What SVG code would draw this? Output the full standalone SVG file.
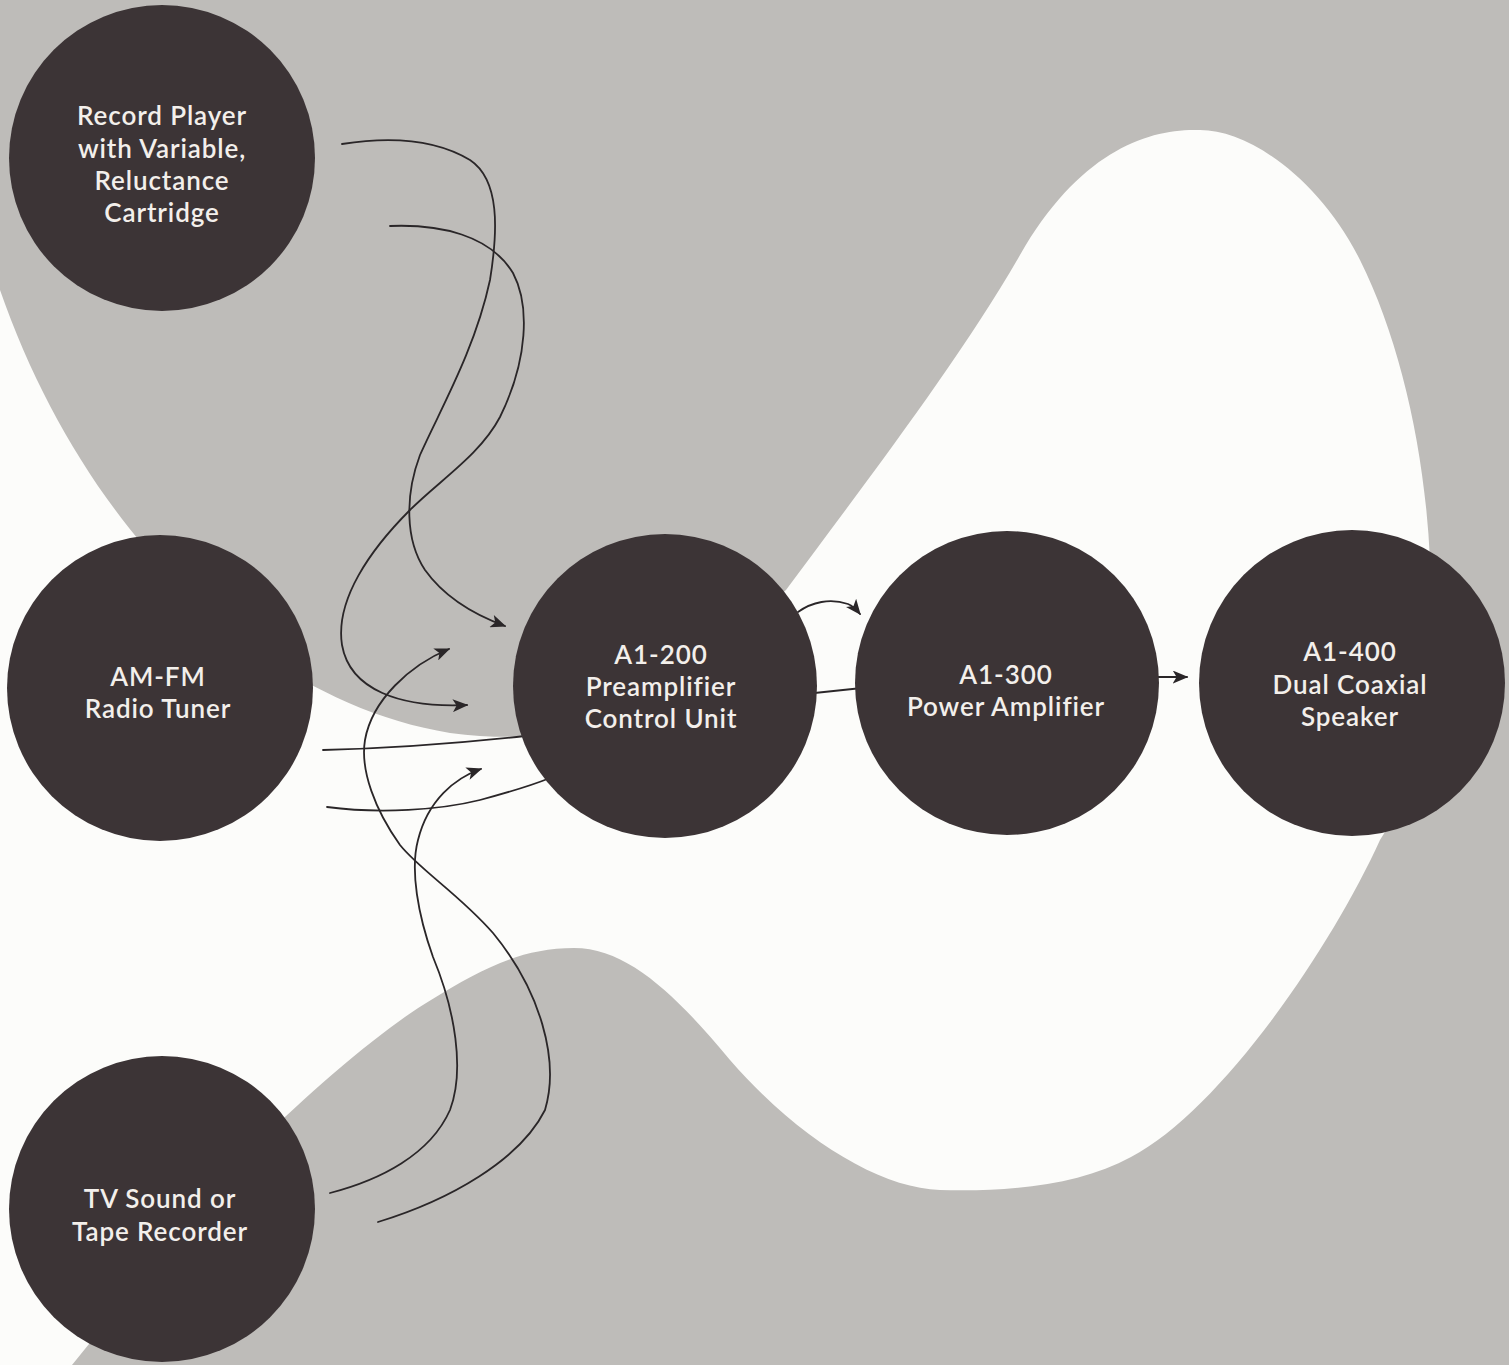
<svg xmlns="http://www.w3.org/2000/svg" width="1509" height="1365" viewBox="0 0 1509 1365">
<style>
.bg-gray{fill:#bebcb9}
.bg-white{fill:#fcfcfa}
.node circle{fill:#3c3436}
.node text{fill:#f3efeb;font-family:Lato,"Liberation Sans",sans-serif;font-size:26px;font-weight:600;letter-spacing:0.9px;text-anchor:middle}
.wire{fill:none;stroke:#2a2628;stroke-width:1.8;stroke-linecap:round}
.arrow{marker-end:url(#ah)}
</style>
<defs>
<marker id="ah" viewBox="0 0 12 10" refX="11" refY="5" markerWidth="16" markerHeight="13" markerUnits="userSpaceOnUse" orient="auto">
<path d="M0,0 L12,5 L0,10 L3,5 z" fill="#2a2628"/>
</marker>
</defs>
<g id="background">
<rect class="bg-gray" x="0" y="0" width="1509" height="1365"/>
<path class="bg-white" d="M0,290 C80,520 250,700 450,733 C520,742 580,735 640,715 L786,590 C860,490 960,360 1020,255 C1080,150 1150,128 1200,130 C1250,130 1320,180 1360,260 C1400,340 1425,450 1430,560 C1435,680 1420,780 1380,840 C1330,950 1220,1110 1131,1157 C1080,1185 1010,1192 940,1190 C880,1188 800,1140 730,1060 C680,1000 630,948 574,948 C520,948 480,970 431,1000 C380,1030 300,1100 230,1170 L72,1365 L0,1365 Z"/>
</g>
<g id="connectors">
<path id="c1" class="wire arrow" d="M342,144 C380,138 430,136 470,160 C500,180 498,230 490,280 C475,350 440,410 420,455 C405,495 405,540 425,570 C445,598 475,615 505,626"/>
<path id="c2" class="wire arrow" d="M390,226 C440,224 490,235 513,273 C530,305 528,360 500,417 C480,455 440,480 410,510 C370,550 335,600 342,645 C350,690 400,708 467,705"/>
<path id="c3" class="wire" d="M323,750 C400,748 470,742 525,736"/>
<path id="c4" class="wire" d="M327,807 C380,814 440,810 480,800 C510,792 535,784 550,778"/>
<path id="c5" class="wire arrow" d="M330,1193 C380,1180 430,1155 450,1110 C465,1070 455,1010 433,957 C418,915 410,870 418,840 C428,800 455,778 481,769"/>
<path id="c6" class="wire arrow" d="M378,1222 C450,1200 520,1160 545,1110 C560,1060 540,990 493,933 C460,895 420,870 400,845 C375,810 360,770 365,740 C372,700 410,665 449,649"/>
<path id="c7" class="wire" d="M805,694 L862,688"/>
<path id="c8" class="wire arrow" d="M798,612 C812,602 830,598 848,604 C853,606 856,609 860,614"/>
<path id="c9" class="wire arrow" d="M1158,677 L1187,677"/>
</g>
<g id="node-record" class="node">
<circle cx="162" cy="158" r="153"/>
<text x="162" y="125">Record Player</text>
<text x="162" y="158">with Variable,</text>
<text x="162" y="190">Reluctance</text>
<text x="162" y="222">Cartridge</text>
</g>
<g id="node-tuner" class="node">
<circle cx="160" cy="688" r="153"/>
<text x="158" y="686">AM-FM</text>
<text x="158" y="718">Radio Tuner</text>
</g>
<g id="node-tv" class="node">
<circle cx="162" cy="1209" r="153"/>
<text x="160" y="1208">TV Sound or</text>
<text x="160" y="1241">Tape Recorder</text>
</g>
<g id="node-a1-200" class="node">
<circle cx="665" cy="686" r="152"/>
<text x="661" y="664">A1-200</text>
<text x="661" y="696">Preamplifier</text>
<text x="661" y="728">Control Unit</text>
</g>
<g id="node-a1-300" class="node">
<circle cx="1007" cy="683" r="152"/>
<text x="1006" y="684">A1-300</text>
<text x="1006" y="716">Power Amplifier</text>
</g>
<g id="node-a1-400" class="node">
<circle cx="1352" cy="683" r="153"/>
<text x="1350" y="661">A1-400</text>
<text x="1350" y="694">Dual Coaxial</text>
<text x="1350" y="726">Speaker</text>
</g>
</svg>
